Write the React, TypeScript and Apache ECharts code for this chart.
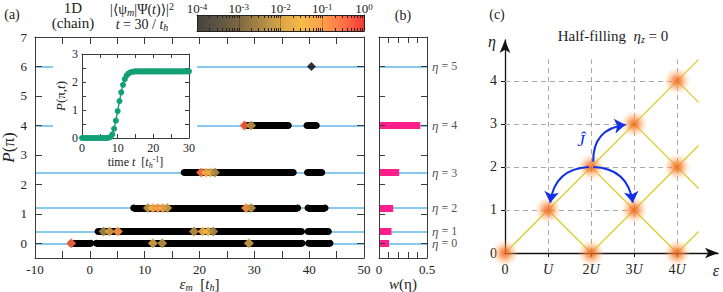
import React, { useEffect, useRef } from 'react';
import * as echarts from 'echarts';

const SERIF = "'Liberation Serif', 'Times New Roman', Times, 'DejaVu Serif', serif";
const INK = '#222';
const FRAME = '#3c3c3c';

// ---------- panel (a): eigenstate energies eps_m at each P(pi) level ----------
const pLevels = [0, 0.4, 1.2, 2.4, 4, 6];
const etaNames = ['0', '1', '2', '3', '4', '5'];
const bandP = [0, 0, 0, 0.4, 0.4, 1.2, 1.2, 2.4, 2.4, 4, 4];
const bandStart = [-3.4, 1.2, 39.9, 1.5, 39.8, 8.0, 39.8, 17.2, 39.7, 28.3, 39.6];
const bandEnd = [0.2, 38.7, 43.8, 38.6, 43.5, 37.9, 42.9, 37.1, 42.3, 36.2, 41.3];
const loneEps = [40.4];
const loneP = [6];
const hiEps = [-3.4, 11.5, 13.2, 29.0, 2.5, 3.6, 5.1, 19.0, 20.6, 21.6, 22.5, 10.6, 11.5, 12.4, 13.3, 14.1, 28.5, 29.4, 20.3, 21.2, 22.0, 22.8, 28.2, 29.4];
const hiP = [0, 0, 0, 0, 0.4, 0.4, 0.4, 0.4, 0.4, 0.4, 0.4, 1.2, 1.2, 1.2, 1.2, 1.2, 1.2, 1.2, 2.4, 2.4, 2.4, 2.4, 4, 4];
const hiLogW = [-0.4, -2.0, -2.3, -2.1, -2.5, -2.0, -0.9, -2.3, -1.3, -1.5, -2.4, -2.2, -1.3, -1.0, -1.1, -2.1, -0.9, -2.3, -0.5, -1.2, -1.7, -2.4, -0.3, -2.3];

// ---------- inset: P(pi, t) vs time ----------
const insetT = [0, 0.5, 1, 1.5, 2, 2.5, 3, 3.5, 4, 4.5, 5, 5.5, 6, 6.5, 7, 7.5, 8, 8.5, 9, 9.5, 10, 10.5, 11, 11.5, 12, 12.5, 13, 13.5, 14, 14.5, 15, 15.5, 16, 16.5, 17, 17.5, 18, 18.5, 19, 19.5, 20, 20.5, 21, 21.5, 22, 22.5, 23, 23.5, 24, 24.5, 25, 25.5, 26, 26.5, 27, 27.5, 28, 28.5, 29, 29.5, 30];
const insetP = [0, 0, 0, 0, 0, 0, 0, 0, 0, 0, 0, 0, 0, 0, 0, 0.01, 0.04, 0.13, 0.33, 0.62, 0.96, 1.32, 1.63, 1.9, 2.1, 2.23, 2.3, 2.34, 2.36, 2.37, 2.38, 2.38, 2.38, 2.38, 2.38, 2.38, 2.38, 2.38, 2.38, 2.38, 2.38, 2.38, 2.38, 2.38, 2.38, 2.38, 2.38, 2.38, 2.38, 2.38, 2.38, 2.38, 2.38, 2.38, 2.38, 2.38, 2.38, 2.38, 2.38, 2.38, 2.38];
const insetMarkT = 10;

// ---------- colour bar ----------
const cbRange = [-4, 0];
const cbMajor = [-4, -3, -2, -1, 0];
const cbMantissa = [2, 3, 4, 5, 6, 7, 8, 9];
const cbColors = ['#45423d', '#5d5443', '#7d6842', '#a88645', '#d8a446', '#f7ba47', '#ffa049', '#ff7245', '#f23a36'];

// ---------- panel (b): weights w(eta) ----------
const wEta = [0.105, 0.13, 0.148, 0.21, 0.43, 0];

// ---------- panel (c): eta-pairing ladder ----------
const dotEps = [0, 2, 4, 1, 3, 2, 4, 3, 4];
const dotEta = [0, 0, 0, 1, 1, 2, 2, 3, 4];
const yellowFrom = [[0, 0], [2, 0], [4, 0], [1, 1], [2, 2], [3, 3], [4, 4]];
const yellowTo = [[4.5, 4.5], [4.5, 2.5], [4.5, 0.5], [2, 0], [4, 0], [4.5, 1.5], [4.5, 3.5]];
const gridEps = [1, 2, 3, 4];
const gridEpsTop = 4.5;
const gridEta = [1, 2, 3, 4];
const gridEtaEnd = [3, 4, 3, 4];
const arrowFrom = [[2.05, 2.12], [1.95, 2.0], [2.05, 2.0]];
const arrowTo = [[2.8, 2.98], [1.05, 1.17], [2.97, 1.17]];
const arrowCurve = [0.45, -0.42, 0.42];
const ladderTicks = [1, 2, 3, 4];
const ladderLabels = [0, 1, 2, 3, 4];

function richSet(F: number) {
  const s = Math.round(F * 0.68);
  return {
    i: { fontFamily: SERIF, fontSize: F, fontStyle: 'italic', lineHeight: F + 2, color: INK, fill: INK },
    s: { fontFamily: SERIF, fontSize: s, fontStyle: 'italic', lineHeight: Math.round(F * 0.6), verticalAlign: 'bottom', color: INK, fill: INK },
    sup: { fontFamily: SERIF, fontSize: s, lineHeight: Math.round(F * 0.6), verticalAlign: 'top', color: INK, fill: INK },
  };
}

function txt(x: number, y: number, text: string, size: number, extra: any = {}) {
  return {
    type: 'text',
    x,
    y,
    z: 100,
    style: {
      text,
      fontFamily: SERIF,
      fontSize: size,
      lineHeight: size + 2,
      fill: INK,
      align: 'center',
      verticalAlign: 'middle',
      textAlign: 'center',
      textVerticalAlign: 'middle',
      rich: richSet(size),
      ...extra,
    },
  };
}

const frameAxis = (extra: any) => ({
  type: 'value',
  z: 5,
  nameMoveOverlap: false,
  axisLine: { show: true, onZero: false, lineStyle: { color: FRAME, width: 1 } },
  axisTick: { show: true, inside: true, length: 7, lineStyle: { color: FRAME } },
  axisLabel: { show: false, fontFamily: SERIF },
  splitLine: { show: false },
  ...extra,
});

function buildOption(): any {
  const intTicks = [0, 1, 2, 3, 4, 5, 6, 7];
  const cbMinor = cbMajor.slice(0, -1).flatMap((d) => cbMantissa.map((m) => d + Math.log10(m)));
  const cbAll = [...cbMajor, ...cbMinor];
  const cbGradient = new echarts.graphic.LinearGradient(0, 0, 1, 0,
    cbColors.map((c, i) => ({ offset: i / (cbColors.length - 1), color: c })));
  const glow = new echarts.graphic.RadialGradient(0.5, 0.5, 0.5, [
    { offset: 0, color: 'rgba(238,88,24,1)' },
    { offset: 0.3, color: 'rgba(244,120,44,0.92)' },
    { offset: 0.65, color: 'rgba(250,165,90,0.45)' },
    { offset: 1, color: 'rgba(255,200,140,0)' },
  ]);
  const gridBase = { outerBoundsMode: 'none', containLabel: false };

  return {
    animation: false,
    textStyle: { fontFamily: SERIF, color: INK },
    grid: [
      { ...gridBase, left: 35, top: 37, width: 329, height: 221 },
      { ...gridBase, left: 379, top: 37, width: 48, height: 221 },
      { ...gridBase, left: 82, top: 54, width: 107, height: 84 },
      { ...gridBase, left: 197, top: 15, width: 167, height: 16 },
      { ...gridBase, left: 505, top: 40, width: 213, height: 213 },
    ],
    visualMap: [{
      type: 'continuous', show: false, min: cbRange[0], max: cbRange[1], dimension: 2, seriesIndex: 3,
      inRange: { color: cbColors },
    }],
    xAxis: [
      frameAxis({
        gridIndex: 0, min: -10, max: 50, interval: 5, position: 'bottom',
        axisLabel: { show: true, fontFamily: SERIF, fontSize: 13, color: INK, margin: 5, formatter: (v: number) => (v % 10 === 0 ? String(v) : '') },
        name: '{i|ε}{s|m}  [{i|t}{s|h}]', nameLocation: 'middle', nameGap: 17,
        nameTextStyle: { fontFamily: SERIF, fontSize: 15, lineHeight: 17, color: INK, rich: richSet(15) },
      }),
      frameAxis({ gridIndex: 0, min: -10, max: 50, interval: 5, position: 'top' }),
      frameAxis({
        gridIndex: 1, min: 0, max: 0.5, interval: 0.1, position: 'bottom', axisTick: { show: true, inside: true, length: 6, lineStyle: { color: FRAME } },
        axisLabel: { show: true, fontFamily: SERIF, fontSize: 13, color: INK, margin: 5, formatter: (v: number) => (Math.abs(v) < 1e-6 ? '0' : Math.abs(v - 0.5) < 1e-6 ? '0.5' : '') },
        name: '{i|w}(η)', nameLocation: 'middle', nameGap: 17,
        nameTextStyle: { fontFamily: SERIF, fontSize: 15, lineHeight: 17, color: INK, rich: richSet(15) },
      }),
      frameAxis({ gridIndex: 1, min: 0, max: 0.5, interval: 0.1, position: 'top', axisTick: { show: true, inside: true, length: 6, lineStyle: { color: FRAME } } }),
      frameAxis({
        gridIndex: 2, min: 0, max: 30, interval: 5, position: 'bottom', z: 20,
        axisTick: { show: true, inside: true, length: 4, lineStyle: { color: FRAME } },
        axisLabel: { show: true, fontFamily: SERIF, fontSize: 12, color: INK, margin: 4, formatter: (v: number) => (v % 10 === 0 ? String(v) : '') },
        name: 'time {i|t}  [{i|t}{s|h}{sup|-1}]', nameLocation: 'middle', nameGap: 17,
        nameTextStyle: { fontFamily: SERIF, fontSize: 12, lineHeight: 14, color: INK, rich: richSet(12) },
      }),
      frameAxis({ gridIndex: 2, min: 0, max: 30, interval: 5, position: 'top', z: 20, axisTick: { show: true, inside: true, length: 4, lineStyle: { color: FRAME } } }),
      frameAxis({
        gridIndex: 3, min: cbRange[0], max: cbRange[1], position: 'top', z: 6,
        axisLine: { show: true, onZero: false, lineStyle: { color: '#222', width: 1 } },
        axisTick: { show: true, inside: true, length: 3, customValues: cbAll, lineStyle: { color: '#222' } },
        axisLabel: {
          show: true, customValues: cbMajor, fontFamily: SERIF, fontSize: 13, color: INK, margin: 1, lineHeight: 12,
          formatter: (v: number) => `10{sup|${v}}`, rich: { sup: { fontFamily: SERIF, fontSize: 9, lineHeight: 6, verticalAlign: 'top', color: INK } },
        },
      }),
      frameAxis({
        gridIndex: 3, min: cbRange[0], max: cbRange[1], position: 'bottom', z: 6,
        axisLine: { show: true, onZero: false, lineStyle: { color: '#222', width: 1 } },
        axisTick: { show: true, inside: true, length: 3, customValues: cbAll, lineStyle: { color: '#222' } },
      }),
      frameAxis({
        gridIndex: 3, min: cbRange[0], max: cbRange[1], interval: 1, position: 'bottom', z: 6,
        axisLine: { show: false }, axisTick: { show: false },
        splitLine: { show: true, lineStyle: { color: 'rgba(0,0,0,0.3)', width: 0.8 } },
      }),
      {
        type: 'value', gridIndex: 4, min: 0, max: 4.95, z: 1,
        axisLine: { show: true, onZero: false, symbol: ['none', 'arrow'], symbolSize: [8, 13], lineStyle: { color: '#111', width: 1.3 } },
        axisTick: { show: true, customValues: ladderTicks, length: 4, lineStyle: { color: '#111' } },
        axisLabel: {
          show: true, customValues: ladderLabels, fontFamily: SERIF, fontSize: 14, color: INK, margin: 9,
          formatter: (v: number) => (v === 0 ? '0' : v === 1 ? '{i|U}' : `${v}{i|U}`),
          rich: { i: { fontFamily: SERIF, fontStyle: 'italic', fontSize: 14, color: INK } },
        },
        splitLine: { show: false },
      },
    ],
    yAxis: [
      frameAxis({
        gridIndex: 0, min: -0.5, max: 7, position: 'left',
        axisTick: { show: true, inside: true, length: 7, customValues: intTicks, lineStyle: { color: FRAME } },
        axisLabel: { show: true, customValues: intTicks, fontFamily: SERIF, fontSize: 13, color: INK, margin: 8 },
        name: '{i|P}(π)', nameLocation: 'middle', nameGap: 17, nameRotate: 90,
        nameTextStyle: { fontFamily: SERIF, fontSize: 17, lineHeight: 17, color: INK, rich: richSet(17) },
      }),
      frameAxis({ gridIndex: 0, min: -0.5, max: 7, position: 'right', axisTick: { show: true, inside: true, length: 7, customValues: intTicks, lineStyle: { color: FRAME } } }),
      frameAxis({ gridIndex: 1, min: -0.5, max: 7, position: 'left', axisTick: { show: true, inside: true, length: 6, customValues: intTicks, lineStyle: { color: FRAME } } }),
      frameAxis({ gridIndex: 1, min: -0.5, max: 7, position: 'right', axisTick: { show: true, inside: true, length: 6, customValues: intTicks, lineStyle: { color: FRAME } } }),
      frameAxis({
        gridIndex: 2, min: 0, max: 3, interval: 0.5, position: 'left', z: 20,
        axisTick: { show: true, inside: true, length: 4, lineStyle: { color: FRAME } },
        axisLabel: { show: true, fontFamily: SERIF, fontSize: 12, color: INK, margin: 4, formatter: (v: number) => (v % 1 === 0 ? String(v) : '') },
        name: '{i|P}(π,{i|t})', nameLocation: 'middle', nameGap: 14, nameRotate: 90,
        nameTextStyle: { fontFamily: SERIF, fontSize: 13, lineHeight: 15, color: INK, rich: richSet(13) },
      }),
      frameAxis({ gridIndex: 2, min: 0, max: 3, interval: 0.5, position: 'right', z: 20, axisTick: { show: true, inside: true, length: 4, lineStyle: { color: FRAME } } }),
      frameAxis({ gridIndex: 3, min: 0, max: 1, position: 'left', z: 6, axisLine: { show: true, onZero: false, lineStyle: { color: '#222' } }, axisTick: { show: false } }),
      frameAxis({ gridIndex: 3, min: 0, max: 1, position: 'right', z: 6, axisLine: { show: true, onZero: false, lineStyle: { color: '#222' } }, axisTick: { show: false } }),
      {
        type: 'value', gridIndex: 4, min: 0, max: 4.95, z: 1,
        axisLine: { show: true, onZero: false, symbol: ['none', 'arrow'], symbolSize: [8, 13], lineStyle: { color: '#111', width: 1.3 } },
        axisTick: { show: true, customValues: ladderTicks, length: 4, lineStyle: { color: '#111' } },
        axisLabel: { show: true, customValues: ladderLabels, fontFamily: SERIF, fontSize: 14, color: INK, margin: 8 },
        splitLine: { show: false },
      },
    ],
    series: [
      // 0: eta levels in (a)
      {
        type: 'lines', coordinateSystem: 'cartesian2d', xAxisIndex: 0, yAxisIndex: 0, z: 2, silent: true,
        lineStyle: { color: '#5fb8e8', width: 1.6, opacity: 1 },
        data: pLevels.map((p) => ({ coords: [[-10, p], [50, p]] })),
      },
      // 1: dense bands of eigenstates
      {
        type: 'lines', coordinateSystem: 'cartesian2d', xAxisIndex: 0, yAxisIndex: 0, z: 3, silent: true,
        symbol: ['circle', 'circle'], symbolSize: 7,
        lineStyle: { color: '#000', width: 7, opacity: 1 },
        data: bandStart.map((s, i) => ({ coords: [[s, bandP[i]], [bandEnd[i], bandP[i]]] })),
      },
      // 2: isolated state
      {
        type: 'scatter', xAxisIndex: 0, yAxisIndex: 0, z: 3, symbol: 'diamond', symbolSize: 9,
        itemStyle: { color: '#000' },
        data: loneEps.map((e, i) => [e, loneP[i]]),
      },
      // 3: states with large overlap
      {
        type: 'scatter', xAxisIndex: 0, yAxisIndex: 0, z: 4, symbol: 'diamond', symbolSize: 10,
        itemStyle: { opacity: 0.9 },
        data: hiEps.map((e, i) => [e, hiP[i], hiLogW[i]]),
      },
      // 4: eta levels in (b)
      {
        type: 'lines', coordinateSystem: 'cartesian2d', xAxisIndex: 2, yAxisIndex: 2, z: 2, silent: true,
        lineStyle: { color: '#5fb8e8', width: 1.6, opacity: 1 },
        data: pLevels.map((p) => ({ coords: [[0, p], [0.5, p]] })),
      },
      // 5: weight bars
      {
        type: 'lines', coordinateSystem: 'cartesian2d', xAxisIndex: 2, yAxisIndex: 2, z: 3, silent: true,
        lineStyle: { color: '#ff1f8c', width: 7, opacity: 1 },
        data: wEta.map((w, i) => ({ coords: [[0, pLevels[i]], [w, pLevels[i]]] })).filter((d) => d.coords[1][0] > 0),
      },
      // 6: inset curve
      {
        type: 'line', xAxisIndex: 4, yAxisIndex: 4, z: 20, clip: false,
        symbol: 'circle', symbolSize: 6, showSymbol: true,
        itemStyle: { color: '#12a074' }, lineStyle: { color: '#12a074', width: 1.4 },
        data: insetT.map((t, i) => [t, insetP[i]]),
        markLine: {
          silent: true, symbol: 'none', label: { show: false },
          lineStyle: { type: 'dashed', color: '#888', width: 1 },
          data: [{ xAxis: insetMarkT }],
        },
      },
      // 7: colour bar fill
      {
        type: 'line', xAxisIndex: 6, yAxisIndex: 6, z: 2, symbol: 'none', silent: true,
        lineStyle: { width: 0 }, areaStyle: { color: cbGradient, opacity: 1, origin: 'start' },
        data: [[cbRange[0], 1], [cbRange[1], 1]],
      },
      // 8: dashed guide lines in (c)
      {
        type: 'lines', coordinateSystem: 'cartesian2d', xAxisIndex: 9, yAxisIndex: 8, z: 2, silent: true,
        lineStyle: { color: '#aaa', width: 1, type: [5, 4], opacity: 1 },
        data: [
          ...gridEps.map((e) => ({ coords: [[e, 0], [e, gridEpsTop]] })),
          ...gridEta.map((h, i) => ({ coords: [[0, h], [gridEtaEnd[i], h]] })),
        ],
      },
      // 9: yellow ladder lines
      {
        type: 'lines', coordinateSystem: 'cartesian2d', xAxisIndex: 9, yAxisIndex: 8, z: 3, silent: true,
        lineStyle: { color: '#dccd2c', width: 1.3, opacity: 1 },
        data: yellowFrom.map((f, i) => ({ coords: [f, yellowTo[i]] })),
      },
      // 10: glowing states
      {
        type: 'scatter', xAxisIndex: 9, yAxisIndex: 8, z: 4, clip: false, symbolSize: 27,
        itemStyle: { color: glow },
        data: dotEps.map((e, i) => [e, dotEta[i]]),
      },
      // 11: J arrows
      {
        type: 'lines', coordinateSystem: 'cartesian2d', xAxisIndex: 9, yAxisIndex: 8, z: 5, silent: true,
        symbol: ['none', 'arrow'], symbolSize: 11,
        lineStyle: { color: '#1430e6', width: 2, opacity: 1 },
        data: arrowFrom.map((f, i) => ({ coords: [f, arrowTo[i]], lineStyle: { curveness: arrowCurve[i] } })),
      },
      // 12: eta labels at the right of (b)
      {
        type: 'scatter', xAxisIndex: 2, yAxisIndex: 2, z: 6, clip: false, symbolSize: 0, silent: true,
        label: {
          show: true, position: 'right', distance: 5, fontFamily: SERIF, fontSize: 12, lineHeight: 11, color: INK,
          formatter: (p: any) => `{i|η} = ${p.name}`,
          rich: { i: { fontFamily: SERIF, fontStyle: 'italic', fontSize: 13, lineHeight: 11, color: INK } },
        },
        labelLayout: { hideOverlap: false },
        data: pLevels.map((p, i) => ({ name: etaNames[i], value: [0.5, p] })),
      },
    ],
    graphic: [
      { type: 'rect', z: 10, silent: true, shape: { x: 53, y: 45, width: 144, height: 124 }, style: { fill: '#fff' } },
      txt(12, 14, '(a)', 14),
      txt(73, 8, '1D', 15, { lineHeight: 14 }),
      txt(73, 23, '(chain)', 15, { lineHeight: 14 }),
      txt(142, 9, '|⟨ψ{s|m}|Ψ({i|t})⟩|{sup|2}', 14),
      txt(142, 24, '{i|t} = 30 / {i|t}{s|h}', 14),
      txt(403, 15, '(b)', 14),
      txt(497, 14, '(c)', 14),
      txt(613, 36, 'Half-filling  {i|η}{s|z} = 0', 15),
      txt(581, 140, 'Ĵ', 17, { fill: '#1430e6', fontStyle: 'italic' }),
      txt(492, 41, 'η', 16, { fontStyle: 'italic' }),
      txt(716, 270, 'ε', 16, { fontStyle: 'italic' }),
    ],
  };
}

export default function App() {
  const ref = useRef<HTMLDivElement>(null);
  useEffect(() => {
    if (!ref.current) return;
    const chart = echarts.init(ref.current, undefined, { renderer: 'svg' });
    chart.setOption(buildOption());
    return () => chart.dispose();
  }, []);
  return (
    <div
      ref={ref}
      style={{ position: 'fixed', left: 0, top: 0, width: 723, height: 292, background: '#fff' }}
    />
  );
}
